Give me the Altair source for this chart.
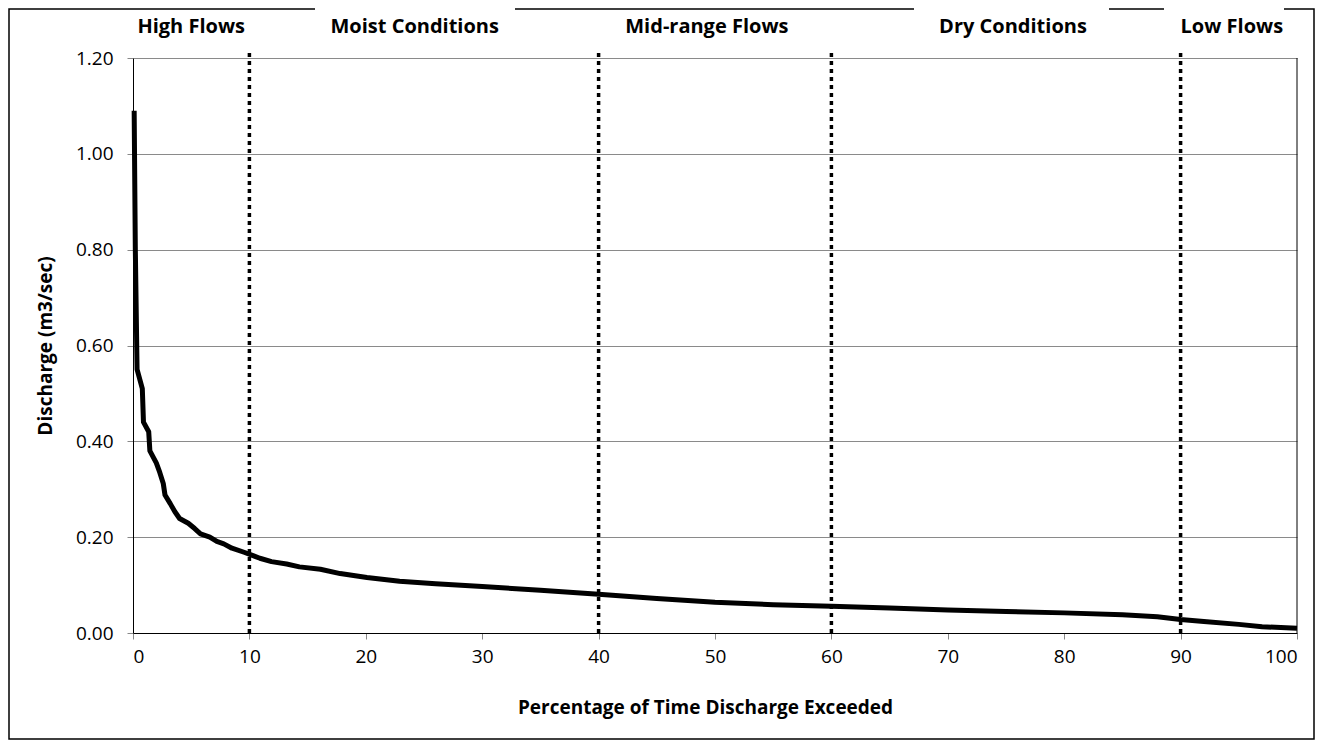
import altair as alt
import pandas as pd

# Flow duration curve
pct = [0.1, 0.2, 0.35, 0.8, 0.9, 1.35, 1.45, 2.0, 2.3, 2.6, 2.75, 3.2, 3.6, 4.0,
       4.75, 5.3, 5.8, 6.6, 7.2, 7.8, 8.5, 9.6, 10.9, 11.9, 13.2, 14.3, 16.1,
       17.8, 20.1, 22.9, 26, 30, 35, 40, 45, 50, 55, 60, 65, 70, 75, 80, 85,
       88, 90, 92, 95, 97, 100]
discharge = [1.09, 0.80, 0.55, 0.51, 0.44, 0.42, 0.38, 0.355, 0.335, 0.312,
             0.288, 0.27, 0.253, 0.239, 0.229, 0.218, 0.207, 0.200, 0.191,
             0.186, 0.177, 0.168, 0.156, 0.149, 0.144, 0.138, 0.133, 0.124,
             0.116, 0.108, 0.103, 0.097, 0.089, 0.081, 0.072, 0.064, 0.059,
             0.056, 0.052, 0.048, 0.045, 0.042, 0.038, 0.034, 0.028, 0.024,
             0.018, 0.013, 0.010]

boundaries = [10, 40, 60, 90]
zone_labels = ["High Flows", "Moist Conditions", "Mid-range Flows", "Dry Conditions", "Low Flows"]
zone_label_x = [5, 24.2, 49.3, 75.6, 94.4]

x_ticks = [0, 10, 20, 30, 40, 50, 60, 70, 80, 90, 100]
y_ticks = [0.0, 0.2, 0.4, 0.6, 0.8, 1.0, 1.2]

FONT = "Open Sans"
W, H = 1164, 575
PL, PT, PR, PB = 125, 50, 18, 107

curve = pd.DataFrame({"pct": pct, "q": discharge})
bounds = pd.DataFrame({"b": boundaries})
labels = pd.DataFrame({"label": zone_labels, "lx": zone_label_x})
one = pd.DataFrame({"d": [0]})

xscale = alt.Scale(domain=[0, 100], nice=False)
yscale = alt.Scale(domain=[0, 1.2], nice=False)

line = alt.Chart(curve).mark_line(color="black", strokeWidth=5, strokeJoin="round").encode(
    x=alt.X("pct:Q", scale=xscale,
            axis=alt.Axis(values=x_ticks, title="Percentage of Time Discharge Exceeded",
                          grid=False, tickSize=6, tickColor="#888888",
                          domainColor="black", labelPadding=8, titlePadding=32,
                          titleX=572)),
    y=alt.Y("q:Q", scale=yscale,
            axis=alt.Axis(values=y_ticks, format=".2f", title="Discharge (m3/sec)",
                          grid=True, gridColor="#8a8a8a", tickSize=6,
                          tickColor="#888888", domainColor="black",
                          labelPadding=14, titlePadding=20)),
)

rules = alt.Chart(bounds).mark_rule(color="black", strokeWidth=3.5, strokeDash=[4, 4]).encode(
    x=alt.X("b:Q", scale=xscale),
    y=alt.value(-5),
    y2=alt.value(H),
)

right_edge = alt.Chart(one).mark_rule(color="black", strokeWidth=1).encode(
    x=alt.value(W), y=alt.value(0), y2=alt.value(H)
)

outer = alt.Chart(one).mark_rect(fill=None, stroke="black", strokeWidth=1.5).encode(
    x=alt.value(-PL + 1), x2=alt.value(W + PR - 1),
    y=alt.value(-PT + 1), y2=alt.value(H + PB - 1),
)

gaps = pd.DataFrame({"x0": [182, 781, 1031], "x1": [382, 976, 1151]})
gap_rects = alt.Chart(gaps).mark_rect(fill="white", stroke=None).encode(
    x=alt.X("x0:Q", scale=None), x2="x1:Q",
    y=alt.value(-PT - 2), y2=alt.value(-PT + 4),
)

text = alt.Chart(labels).mark_text(font=FONT, fontSize=20, fontWeight="bold",
                                   color="black", baseline="alphabetic", align="center").encode(
    x=alt.X("lx:Q", scale=xscale),
    y=alt.value(-25),
    text="label:N",
)

chart = alt.layer(line, rules, right_edge, outer, gap_rects, text).properties(
    width=W, height=H,
    autosize=alt.AutoSizeParams(type="none"),
    padding={"left": PL, "top": PT, "right": PR, "bottom": PB},
).configure_view(stroke=None).configure_axis(
    labelFont=FONT, titleFont=FONT, labelFontSize=19, titleFontSize=19,
    labelColor="black", titleColor="black", titleFontWeight="bold",
)

chart.save("out.html", embed_options={"renderer": "svg", "actions": False})
